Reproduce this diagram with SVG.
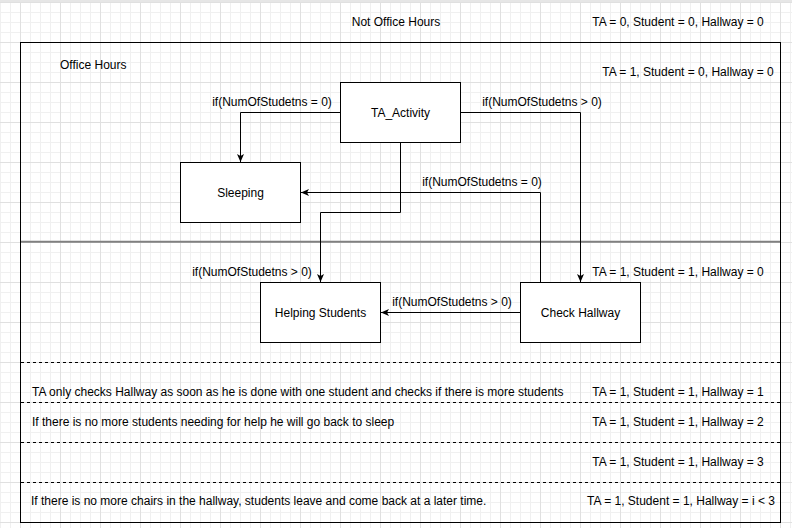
<svg xmlns="http://www.w3.org/2000/svg" width="792" height="528" viewBox="0 0 792 528">
  <defs>
    <pattern id="grid" x="20" y="2" width="40" height="40" patternUnits="userSpaceOnUse">
      <path d="M10.5,0 V40 M20.5,0 V40 M30.5,0 V40 M0,10.5 H40 M0,20.5 H40 M0,30.5 H40" stroke="#f0f0f0" stroke-width="1" fill="none"/>
      <path d="M0.5,0 V40 M0,0.5 H40" stroke="#e0e0e0" stroke-width="1" fill="none"/>
    </pattern>
    <marker id="arrow" viewBox="0 0 8 7" refX="8" refY="3.5" markerWidth="8" markerHeight="7" markerUnits="userSpaceOnUse" orient="auto">
      <path d="M0,0 L8,3.5 L0,7 L2,3.5 Z" fill="#000"/>
    </marker>
    <style>
      text { font-family: "Liberation Sans", Arial, Helvetica, sans-serif; font-size: 12px; fill: #000; }
      .mid { text-anchor: middle; }
      .box { fill: #fff; stroke: #000; stroke-width: 1; }
      .edge { fill: none; stroke: #000; stroke-width: 1; marker-end: url(#arrow); }
      .dash { stroke: #000; stroke-width: 1; stroke-dasharray: 3 3; }
    </style>
  </defs>

  <rect x="0" y="0" width="792" height="528" fill="#fff"/>
  <rect x="0" y="0" width="792" height="528" fill="url(#grid)"/>
  <rect x="0" y="0" width="792" height="2" fill="#e6e6e6"/>

  <g id="frame">
    <rect x="20.5" y="42.5" width="760" height="480" fill="none" stroke="#000" stroke-width="1"/>
    <line x1="21" y1="241.7" x2="780" y2="241.7" stroke="#808080" stroke-width="2"/>
    <line class="dash" x1="21" y1="362.5" x2="780" y2="362.5"/>
    <line class="dash" x1="21" y1="402.5" x2="780" y2="402.5"/>
    <line class="dash" x1="21" y1="442.5" x2="780" y2="442.5"/>
    <line class="dash" x1="21" y1="482.5" x2="780" y2="482.5"/>
  </g>

  <g id="labels">
    <text class="mid" x="396" y="26">Not Office Hours</text>
    <text class="mid" x="678" y="26">TA = 0, Student = 0, Hallway = 0</text>
    <text x="60" y="69">Office Hours</text>
    <text class="mid" x="688" y="76">TA = 1, Student = 0, Hallway = 0</text>
    <text class="mid" x="678" y="276">TA = 1, Student = 1, Hallway = 0</text>
    <text x="32" y="396">TA only checks Hallway as soon as he is done with one student and checks if there is more students</text>
    <text class="mid" x="678" y="396">TA = 1, Student = 1, Hallway = 1</text>
    <text x="32" y="426">If there is no more students needing for help he will go back to sleep</text>
    <text class="mid" x="678" y="426">TA = 1, Student = 1, Hallway = 2</text>
    <text class="mid" x="678" y="466">TA = 1, Student = 1, Hallway = 3</text>
    <text x="31" y="505">If there is no more chairs in the hallway, students leave and come back at a later time.</text>
    <text class="mid" x="681" y="505">TA = 1, Student = 1, Hallway = i &lt; 3</text>
  </g>

  <g id="connectors">
    <path class="edge" d="M340,112.5 H240.5 V162"/>
    <path class="edge" d="M460,112.5 H580.5 V282"/>
    <path class="edge" d="M400.5,142 V212.5 H320.5 V282"/>
    <path class="edge" d="M540.5,282 V192.5 H301"/>
    <path class="edge" d="M520,312.5 H381"/>
    <text class="mid" x="272" y="105.5">if(NumOfStudetns = 0)</text>
    <text class="mid" x="542" y="105.5">if(NumOfStudetns &gt; 0)</text>
    <text class="mid" x="482" y="186">if(NumOfStudetns = 0)</text>
    <text class="mid" x="252" y="276">if(NumOfStudetns &gt; 0)</text>
    <text class="mid" x="452" y="306">if(NumOfStudetns &gt; 0)</text>
  </g>

  <g id="ta_activity">
    <rect class="box" x="340.5" y="82.5" width="120" height="60"/>
    <text class="mid" x="400.5" y="116.5">TA_Activity</text>
  </g>
  <g id="sleeping">
    <rect class="box" x="180.5" y="162.5" width="120" height="60"/>
    <text class="mid" x="240.5" y="196.5">Sleeping</text>
  </g>
  <g id="helping_students">
    <rect class="box" x="260.5" y="282.5" width="120" height="60"/>
    <text class="mid" x="320.5" y="316.5">Helping Students</text>
  </g>
  <g id="check_hallway">
    <rect class="box" x="520.5" y="282.5" width="120" height="60"/>
    <text class="mid" x="580.5" y="316.5">Check Hallway</text>
  </g>
</svg>
